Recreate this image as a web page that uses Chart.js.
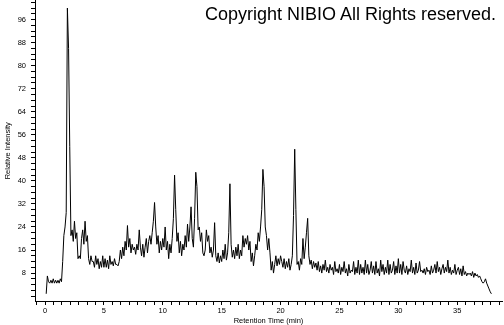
<!DOCTYPE html>
<html>
<head>
<meta charset="utf-8">
<script src="https://cdn.jsdelivr.net/npm/chart.js@4.4.1/dist/chart.umd.min.js"></script>
<style>
  html, body { margin: 0; padding: 0; background: #fff; }
  #wrap { position: relative; width: 504px; height: 325px; overflow: hidden; }
  #chromChart { position: absolute; left: 0; top: -5px; }
  #copyright {
    position: absolute; left: 205px; top: 4px;
    font: 18px "Liberation Sans", Arial, sans-serif; color: #000; white-space: nowrap;
  }
</style>
</head>
<body>
<div id="wrap">
  <canvas id="chromChart" width="504" height="330"></canvas>
  <div id="copyright">Copyright NIBIO All Rights reserved.</div>
</div>
<script>
// Scan timing (min) - one value every 0.1 min starting at 0.1
const scanStart = 0.1;
const scanStep = 0.1;

// Relative intensity, one row per minute
const intensity = [
  0.8, 7, 5, 4.5, 5.5, 4.5, 6, 4.5, 5.5, 4.5,
  5.5, 4.5, 6, 5, 12, 21, 24, 29, 100, 86,
  52, 21, 23, 19, 26, 20, 22, 13, 14, 13,
  20, 23, 18, 26, 19, 21, 13, 11, 14, 12,
  12, 10, 14, 11, 13, 9.5, 12, 10, 14, 10,
  13, 10, 12.5, 9.5, 14, 11, 12, 10.5, 13, 11,
  11, 10.5, 12, 16, 13, 17, 14, 19, 16, 24.5,
  17, 20, 15, 18, 16, 17, 14.5, 18, 16, 23,
  17, 14, 18, 13.5, 17, 20, 15, 19, 21, 18,
  22, 26, 32.5, 24, 18, 21, 15, 19, 16, 20,
  17, 24, 16, 19, 13, 18, 15, 20, 27, 42,
  30, 19, 22, 15, 19, 14, 18, 16, 21, 17,
  25, 19, 24, 31, 20, 17, 27, 43, 38, 23,
  24, 19, 22, 15, 14, 16, 23, 19, 21, 15,
  17, 13.5, 16, 25.5, 14, 12, 15, 11.5, 14, 12,
  16, 13, 18, 12.5, 15, 22, 39, 18, 13.5, 16,
  13, 17, 14, 18, 13, 16, 14, 21, 17, 20,
  18, 21, 16, 19, 12, 15, 10.5, 14, 18, 16,
  22, 19, 24, 30, 44, 38, 24, 21, 16, 20,
  15, 9, 12, 8, 11, 14, 10.5, 13, 11, 14,
  12, 10, 13, 9.5, 12, 10, 13, 9, 11, 14,
  28, 51, 30, 11, 12, 9, 13, 11, 20, 13,
  17, 22, 27, 14, 11, 12.5, 9.5, 12, 10, 11.5,
  9, 12, 8.5, 10.5, 8, 11, 9, 12.5, 8.5, 10,
  8, 11, 9, 10, 7.5, 12, 8.5, 9.5, 8, 11,
  7.5, 10, 8.5, 12, 8, 9.5, 7, 11, 8, 9,
  8.5, 12, 7.5, 10, 8, 12.5, 7.5, 11, 8, 10,
  7.5, 12.5, 8, 11, 7.5, 9, 12, 8, 10.5, 7.5,
  12, 8, 9.5, 7, 12.5, 8.5, 11, 7.5, 10, 8,
  12.5, 7.5, 11, 8, 9, 12, 7.5, 10.5, 8, 13,
  8, 11, 7.5, 12, 9, 8, 10.5, 7.5, 9.5, 8.5,
  12.5, 8, 10, 7.5, 11.5, 8, 9, 12, 8.5, 9,
  8, 9.5, 7.5, 10, 8.5, 9, 7.5, 10.5, 8, 9,
  11, 8, 12, 8.5, 10, 7.5, 9.5, 11, 8, 10,
  8.5, 12.5, 8, 10, 7.5, 9, 8, 11, 7.5, 9,
  10, 7.5, 9.5, 7, 10.5, 7.5, 8.5, 7, 8, 7.5,
  8, 7, 8.5, 6.5, 8, 7, 7.5, 6.5, 7, 6,
  5, 4.5, 5, 6, 4.5, 3.5, 2.5, 1.5, 0.8
];

// Axis labels
const xLabels = [0, 5, 10, 15, 20, 25, 30, 35];
const yLabels = [8, 16, 24, 32, 40, 48, 56, 64, 72, 80, 88, 96];
const xMinorStep = 5 / 7;
const yMinorStep = 2;

const points = intensity.map((v, i) => ({ x: +(scanStart + i * scanStep).toFixed(2), y: v }));

const tickFont = { family: '"Liberation Sans", Arial, sans-serif', size: 7.5 };
const tinyFont = { family: '"Liberation Sans", Arial, sans-serif', size: 1 };

const isXLabel = v => xLabels.some(l => Math.abs(l - v) < 0.01);

const ctx = document.getElementById('chromChart').getContext('2d');
new Chart(ctx, {
  type: 'line',
  data: {
    datasets: [{
      data: points,
      borderColor: '#000',
      borderWidth: 1,
      pointRadius: 0,
      tension: 0,
      fill: false
    }]
  },
  options: {
    responsive: false,
    animation: false,
    devicePixelRatio: 1,
    layout: { padding: { top: 0, right: 2, left: 0, bottom: 0 } },
    plugins: { legend: { display: false }, tooltip: { enabled: false } },
    scales: {
      x: {
        type: 'linear',
        min: -0.85,
        max: 38.8,
        afterBuildTicks: s => {
          const t = [];
          for (let v = -xMinorStep; v <= 38.8; v += xMinorStep) t.push({ value: v });
          s.ticks = t;
        },
        afterFit: s => { s.height = 24; },
        grid: { display: true, drawOnChartArea: false, drawTicks: true, tickLength: 4, color: '#000', lineWidth: 1 },
        border: { display: true, color: '#000', width: 1 },
        ticks: {
          color: '#000',
          padding: 1,
          maxRotation: 0,
          autoSkip: false,
          font: c => (c.tick && !isXLabel(c.tick.value) ? tinyFont : tickFont),
          callback: v => {
            const hit = xLabels.find(l => Math.abs(l - v) < 0.01);
            return hit === undefined ? '' : String(hit);
          }
        },
        title: {
          display: true,
          text: 'Retention Time (min)',
          color: '#000',
          font: tickFont,
          padding: { top: 0, bottom: 0 }
        }
      },
      y: {
        min: -1.7,
        max: 102.6,
        afterBuildTicks: s => {
          const t = [];
          for (let v = 0; v <= 102; v += yMinorStep) t.push({ value: v });
          s.ticks = t;
        },
        afterFit: s => { s.width = 35; },
        grid: { display: true, drawOnChartArea: false, drawTicks: true, tickLength: 4, color: '#000', lineWidth: 1 },
        border: { display: true, color: '#000', width: 1 },
        ticks: {
          color: '#000',
          padding: 5,
          autoSkip: false,
          font: c => (c.tick && !yLabels.includes(c.tick.value) ? tinyFont : tickFont),
          callback: v => (yLabels.includes(v) ? String(v) : '')
        },
        title: {
          display: true,
          text: 'Relative Intensity',
          color: '#000',
          font: tickFont,
          padding: { top: 3, bottom: 0 }
        }
      }
    }
  }
});
</script>
</body>
</html>
